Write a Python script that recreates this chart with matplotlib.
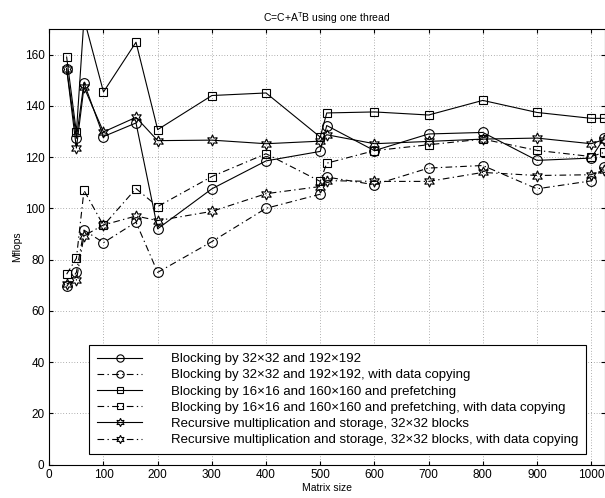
import matplotlib.pyplot as plt

plt.rcParams['font.family'] = ['Liberation Sans', 'DejaVu Sans']

# matrix sizes
sizes = [32, 50, 64, 100, 160, 200, 300, 400, 500, 512, 600, 700, 800, 900, 1000, 1024]

# Mflops per method
blk192 = [154.5, 127.3, 149, 128, 133.3, 92, 107.6, 118.5, 122.2, 132.3, 122.5, 129, 129.6, 118.7, 119.6, 127.4]
blk192_copy = [69.5, 75, 91.5, 86.6, 94.6, 75, 87, 100, 105.5, 112.2, 109.2, 115.7, 116.7, 107.6, 110.7, 116]
blk160 = [159, 129.6, 174, 145.4, 164.8, 130.7, 144, 145, 127.8, 137.2, 137.6, 136.4, 142.1, 137.4, 135.1, 135.1]
blk160_copy = [74.3, 80.5, 107, 93.3, 107.7, 100.7, 112.4, 121.3, 110.5, 117.6, 122.5, 124.8, 127, 122.6, 120.2, 121.8]
recur = [154.4, 123.5, 147.3, 129.8, 135.5, 126.4, 126.6, 125.2, 126.2, 128.7, 125.2, 126.1, 127, 127.4, 125.2, 126.8]
recur_copy = [70.5, 72, 89.3, 93.5, 97, 95.2, 98.8, 105.7, 108.5, 110.8, 110.5, 110.5, 114, 112.8, 113.1, 115]

labels = [
    "Blocking by 32\u00d732 and 192\u00d7192",
    "Blocking by 32\u00d732 and 192\u00d7192, with data copying",
    "Blocking by 16\u00d716 and 160\u00d7160 and prefetching",
    "Blocking by 16\u00d716 and 160\u00d7160 and prefetching, with data copying",
    "Recursive multiplication and storage, 32\u00d732 blocks",
    "Recursive multiplication and storage, 32\u00d732 blocks, with data copying",
]

fig = plt.figure(figsize=(6.05, 4.98), dpi=100)
ax = fig.add_axes([0.0815, 0.067, 0.918, 0.875])

dashdot = (0, (6, 3, 1.2, 3))
star6 = (6, 1, 0)

series = [
    (blk192, '-', 'o', 7),
    (blk192_copy, dashdot, 'o', 7),
    (blk160, '-', 's', 6),
    (blk160_copy, dashdot, 's', 6),
    (recur, '-', star6, 8),
    (recur_copy, dashdot, star6, 8),
]

for (vals, ls, mk, ms), lab in zip(series, labels):
    ax.plot(sizes, vals, color='black', linestyle=ls, linewidth=0.8,
            marker=mk, markersize=ms, markerfacecolor='none',
            markeredgecolor='black', markeredgewidth=0.8, label=lab)

ax.set_xlim(0, 1025)
ax.set_ylim(0, 170)
ax.set_xticks(range(0, 1001, 100))
ax.set_yticks(range(0, 161, 20))
ax.tick_params(direction='in', labelsize=8.5, length=3, top=True, right=True)
ax.grid(True, linestyle=(0, (1, 3)), color='black', linewidth=0.5, alpha=0.6)
ax.set_xlabel("Matrix size", fontsize=7.5, labelpad=1)
ax.set_ylabel("Mflops", fontsize=7.5, labelpad=2)
ax.set_title("C=C+A$^\\mathregular{T}$B using one thread", fontsize=7.5, pad=5)

leg = ax.legend(loc='lower left', bbox_to_anchor=(0.072, 0.024), fontsize=9.5,
                frameon=True, fancybox=False, edgecolor='black', framealpha=1,
                handlelength=3.4, borderpad=0.6, labelspacing=0.3,
                handletextpad=2.2, borderaxespad=0, markerscale=0.75)
leg.get_frame().set_linewidth(0.8)

fig.savefig("out.png", dpi=100)
